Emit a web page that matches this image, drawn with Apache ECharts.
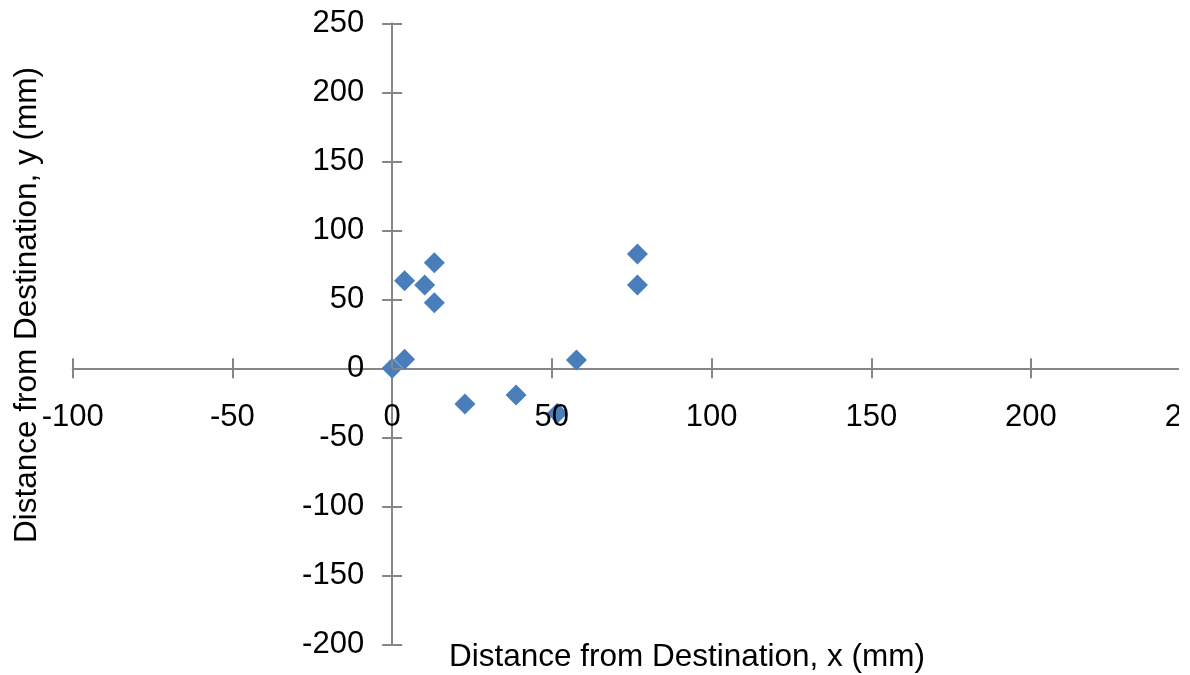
<!DOCTYPE html>
<html>
<head>
<meta charset="utf-8">
<script src="https://cdn.jsdelivr.net/npm/echarts@6/dist/echarts.min.js"></script>
<style>
  html, body { margin: 0; padding: 0; background: #fff; overflow: hidden; }
  #chart { width: 1190px; height: 675px; }
</style>
</head>
<body>
<div id="chart"></div>
<script>
// Measured offsets from the destination point (mm)
const xValues = [0, 3.9, 3.9, 10.2, 13.2, 13.2, 22.8, 38.8, 51.7, 57.7, 76.8, 76.8];
const yValues = [0, 6.5, 63.5, 60.4, 76.5, 47.5, -25.9, -19.3, -32.6, 6.0, 82.8, 60.4];

// Axis tick values
const xTickValues = [-100, -50, 0, 50, 100, 150, 200, 250];
const yTickValues = [-200, -150, -100, -50, 0, 50, 100, 150, 200, 250];

const xTitle = 'Distance from Destination, x (mm)';
const yTitle = 'Distance from Destination, y (mm)';

const points = xValues.map((x, i) => [x, yValues[i]]);

const AXIS_COLOR = '#868686';
const FONT = 'Liberation Sans, Arial, sans-serif';
const LABEL_SIZE = 31;
const TITLE_SIZE = 31.5;

function range(ticks) {
  return { min: ticks[0], max: ticks[ticks.length - 1], interval: ticks[1] - ticks[0] };
}
const xr = range(xTickValues);
const yr = range(yTickValues);

// Main axis: line through zero with outward ticks, drawn beneath the markers.
function lineAxis(r, position) {
  return {
    type: 'value', position: position, min: r.min, max: r.max, interval: r.interval,
    z: 0,
    splitLine: { show: false },
    axisLine: { show: true, onZero: true, onZeroAxisIndex: 0,
      lineStyle: { color: AXIS_COLOR, width: 2 } },
    axisTick: { show: true, inside: false, length: 10,
      lineStyle: { color: AXIS_COLOR, width: 2 } },
    axisLabel: { show: false }
  };
}
// Companion axis: inward ticks and labels, shifted onto the zero line
// (offset filled in once the grid is laid out), drawn above the markers.
function labelAxis(r, position, margin) {
  return {
    type: 'value', position: position, min: r.min, max: r.max, interval: r.interval,
    z: 5,
    offset: 0,
    splitLine: { show: false },
    axisLine: { show: false, onZero: false },
    axisTick: { show: true, inside: true, length: 10,
      lineStyle: { color: AXIS_COLOR, width: 2 } },
    axisLabel: { show: true, margin: margin, color: '#000',
      fontFamily: FONT, fontSize: LABEL_SIZE }
  };
}

const chart = echarts.init(document.getElementById('chart'), null, { renderer: 'canvas' });
chart.setOption({
  animation: false,
  backgroundColor: '#fff',
  grid: { left: 72.7, right: -0.7, top: 23.3, bottom: 30.7,
    containLabel: false, outerBoundsMode: 'none' },
  xAxis: [lineAxis(xr, 'bottom'), labelAxis(xr, 'bottom', 34)],
  yAxis: [lineAxis(yr, 'left'), labelAxis(yr, 'left', 28)],
  series: [{
    type: 'scatter',
    xAxisIndex: 0, yAxisIndex: 0,
    symbol: 'diamond',
    symbolSize: 21,
    itemStyle: { color: '#4a7ebb', opacity: 1 },
    z: 2,
    data: points
  }],
  graphic: [
    { type: 'rect', left: 1179, top: 0, z: 100,
      shape: { width: 20, height: 675 }, style: { fill: '#fff' } },
    { type: 'text', x: 687, y: 657, z: 10,
      style: { text: xTitle, fill: '#000', font: TITLE_SIZE + 'px ' + FONT,
        align: 'center', verticalAlign: 'middle' } },
    { type: 'text', x: 27, y: 305, rotation: Math.PI / 2, z: 10,
      style: { text: yTitle, fill: '#000', font: TITLE_SIZE + 'px ' + FONT,
        align: 'center', verticalAlign: 'middle' } }
  ]
});

// Move the label axes from the grid edges onto the origin.
const finder = { xAxisIndex: 0, yAxisIndex: 0 };
const origin = chart.convertToPixel(finder, [0, 0]);
const corner = chart.convertToPixel(finder, [xr.min, yr.min]);
chart.setOption({
  xAxis: [{}, { offset: origin[1] - corner[1] }],
  yAxis: [{}, { offset: corner[0] - origin[0] }]
});
</script>
</body>
</html>
